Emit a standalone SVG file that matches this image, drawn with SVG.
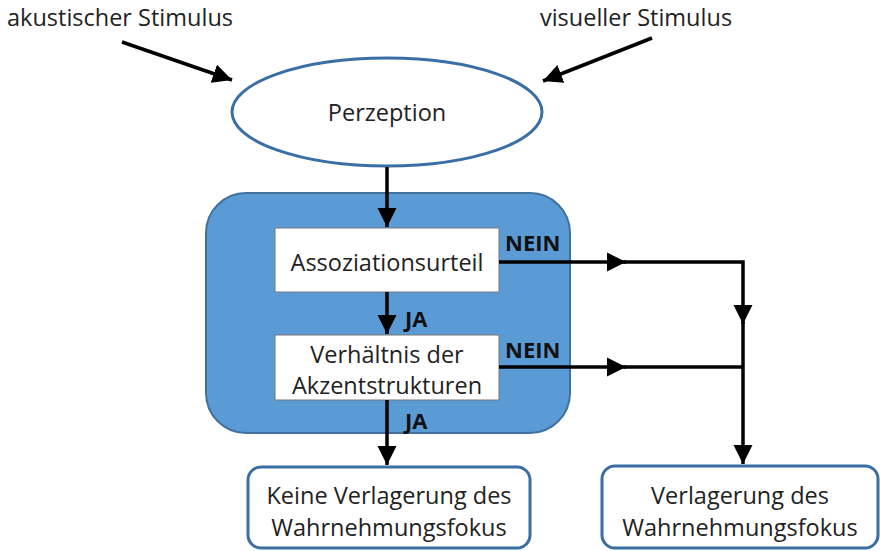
<svg xmlns="http://www.w3.org/2000/svg" width="880" height="551" viewBox="0 0 880 551">
<defs>
<marker id="ah" viewBox="0 0 10 10" refX="10" refY="5" markerWidth="5.5" markerHeight="5.5" orient="auto" markerUnits="strokeWidth"><path d="M0,0 L10,5 L0,10 z" fill="#000"/></marker>
<style>
text{font-family:"Open Sans","Noto Sans","Liberation Sans",sans-serif;fill:#222;font-size:23.5px;text-anchor:middle}
.lbl{font-weight:bold;font-size:22px;fill:#111;text-anchor:start}
.c{stroke:#000;stroke-width:3.5;fill:none}
.out{fill:#fff;stroke:#3a6fa6;stroke-width:3}
.inner{fill:#fff;stroke:#777;stroke-width:1}
</style>
</defs>
<rect width="880" height="551" fill="#fff"/>
<g id="stimA"><text x="120" y="26">akustischer Stimulus</text></g>
<g id="stimV"><text x="636" y="26">visueller Stimulus</text></g>
<g id="perzeption"><ellipse cx="387" cy="112" rx="155" ry="54" class="out"/><text x="387" y="121">Perzeption</text></g>
<g id="gruppe"><rect x="206" y="193" width="364" height="240" rx="40" fill="#5b9bd5" stroke="#41719c" stroke-width="2"/></g>
<g id="assoz"><rect x="275" y="228" width="224" height="64" class="inner"/><text x="387" y="271">Assoziationsurteil</text></g>
<g id="verh"><rect x="275" y="335" width="224" height="65" class="inner"/><text x="387" y="363">Verhältnis der</text><text x="387" y="394">Akzentstrukturen</text></g>
<g id="keine"><rect x="248" y="467" width="282" height="81" rx="13" class="out"/><text x="389" y="504">Keine Verlagerung des</text><text x="389" y="536">Wahrnehmungsfokus</text></g>
<g id="verl"><rect x="602" y="466" width="276" height="82" rx="13" class="out"/><text x="740" y="504">Verlagerung des</text><text x="740" y="536">Wahrnehmungsfokus</text></g>
<g id="connectors">
<line x1="122" y1="42" x2="232" y2="80" class="c" marker-end="url(#ah)"/>
<line x1="652" y1="38" x2="543" y2="81" class="c" marker-end="url(#ah)"/>
<line x1="387" y1="167" x2="387" y2="227" class="c" marker-end="url(#ah)"/>
<line x1="387" y1="292" x2="387" y2="334" class="c" marker-end="url(#ah)"/>
<line x1="387" y1="400" x2="387" y2="465" class="c" marker-end="url(#ah)"/>
<line x1="499" y1="262" x2="626" y2="262" class="c" marker-end="url(#ah)"/>
<polyline points="624,262 743,262 743,324" class="c" marker-end="url(#ah)"/>
<line x1="743" y1="322" x2="743" y2="464" class="c" marker-end="url(#ah)"/>
<line x1="499" y1="367" x2="626" y2="367" class="c" marker-end="url(#ah)"/>
<line x1="624" y1="367" x2="743" y2="367" class="c"/>
<text class="lbl" x="405" y="327">JA</text>
<text class="lbl" x="405" y="429">JA</text>
<text class="lbl" x="505" y="251">NEIN</text>
<text class="lbl" x="505" y="358">NEIN</text>
</g>
</svg>
